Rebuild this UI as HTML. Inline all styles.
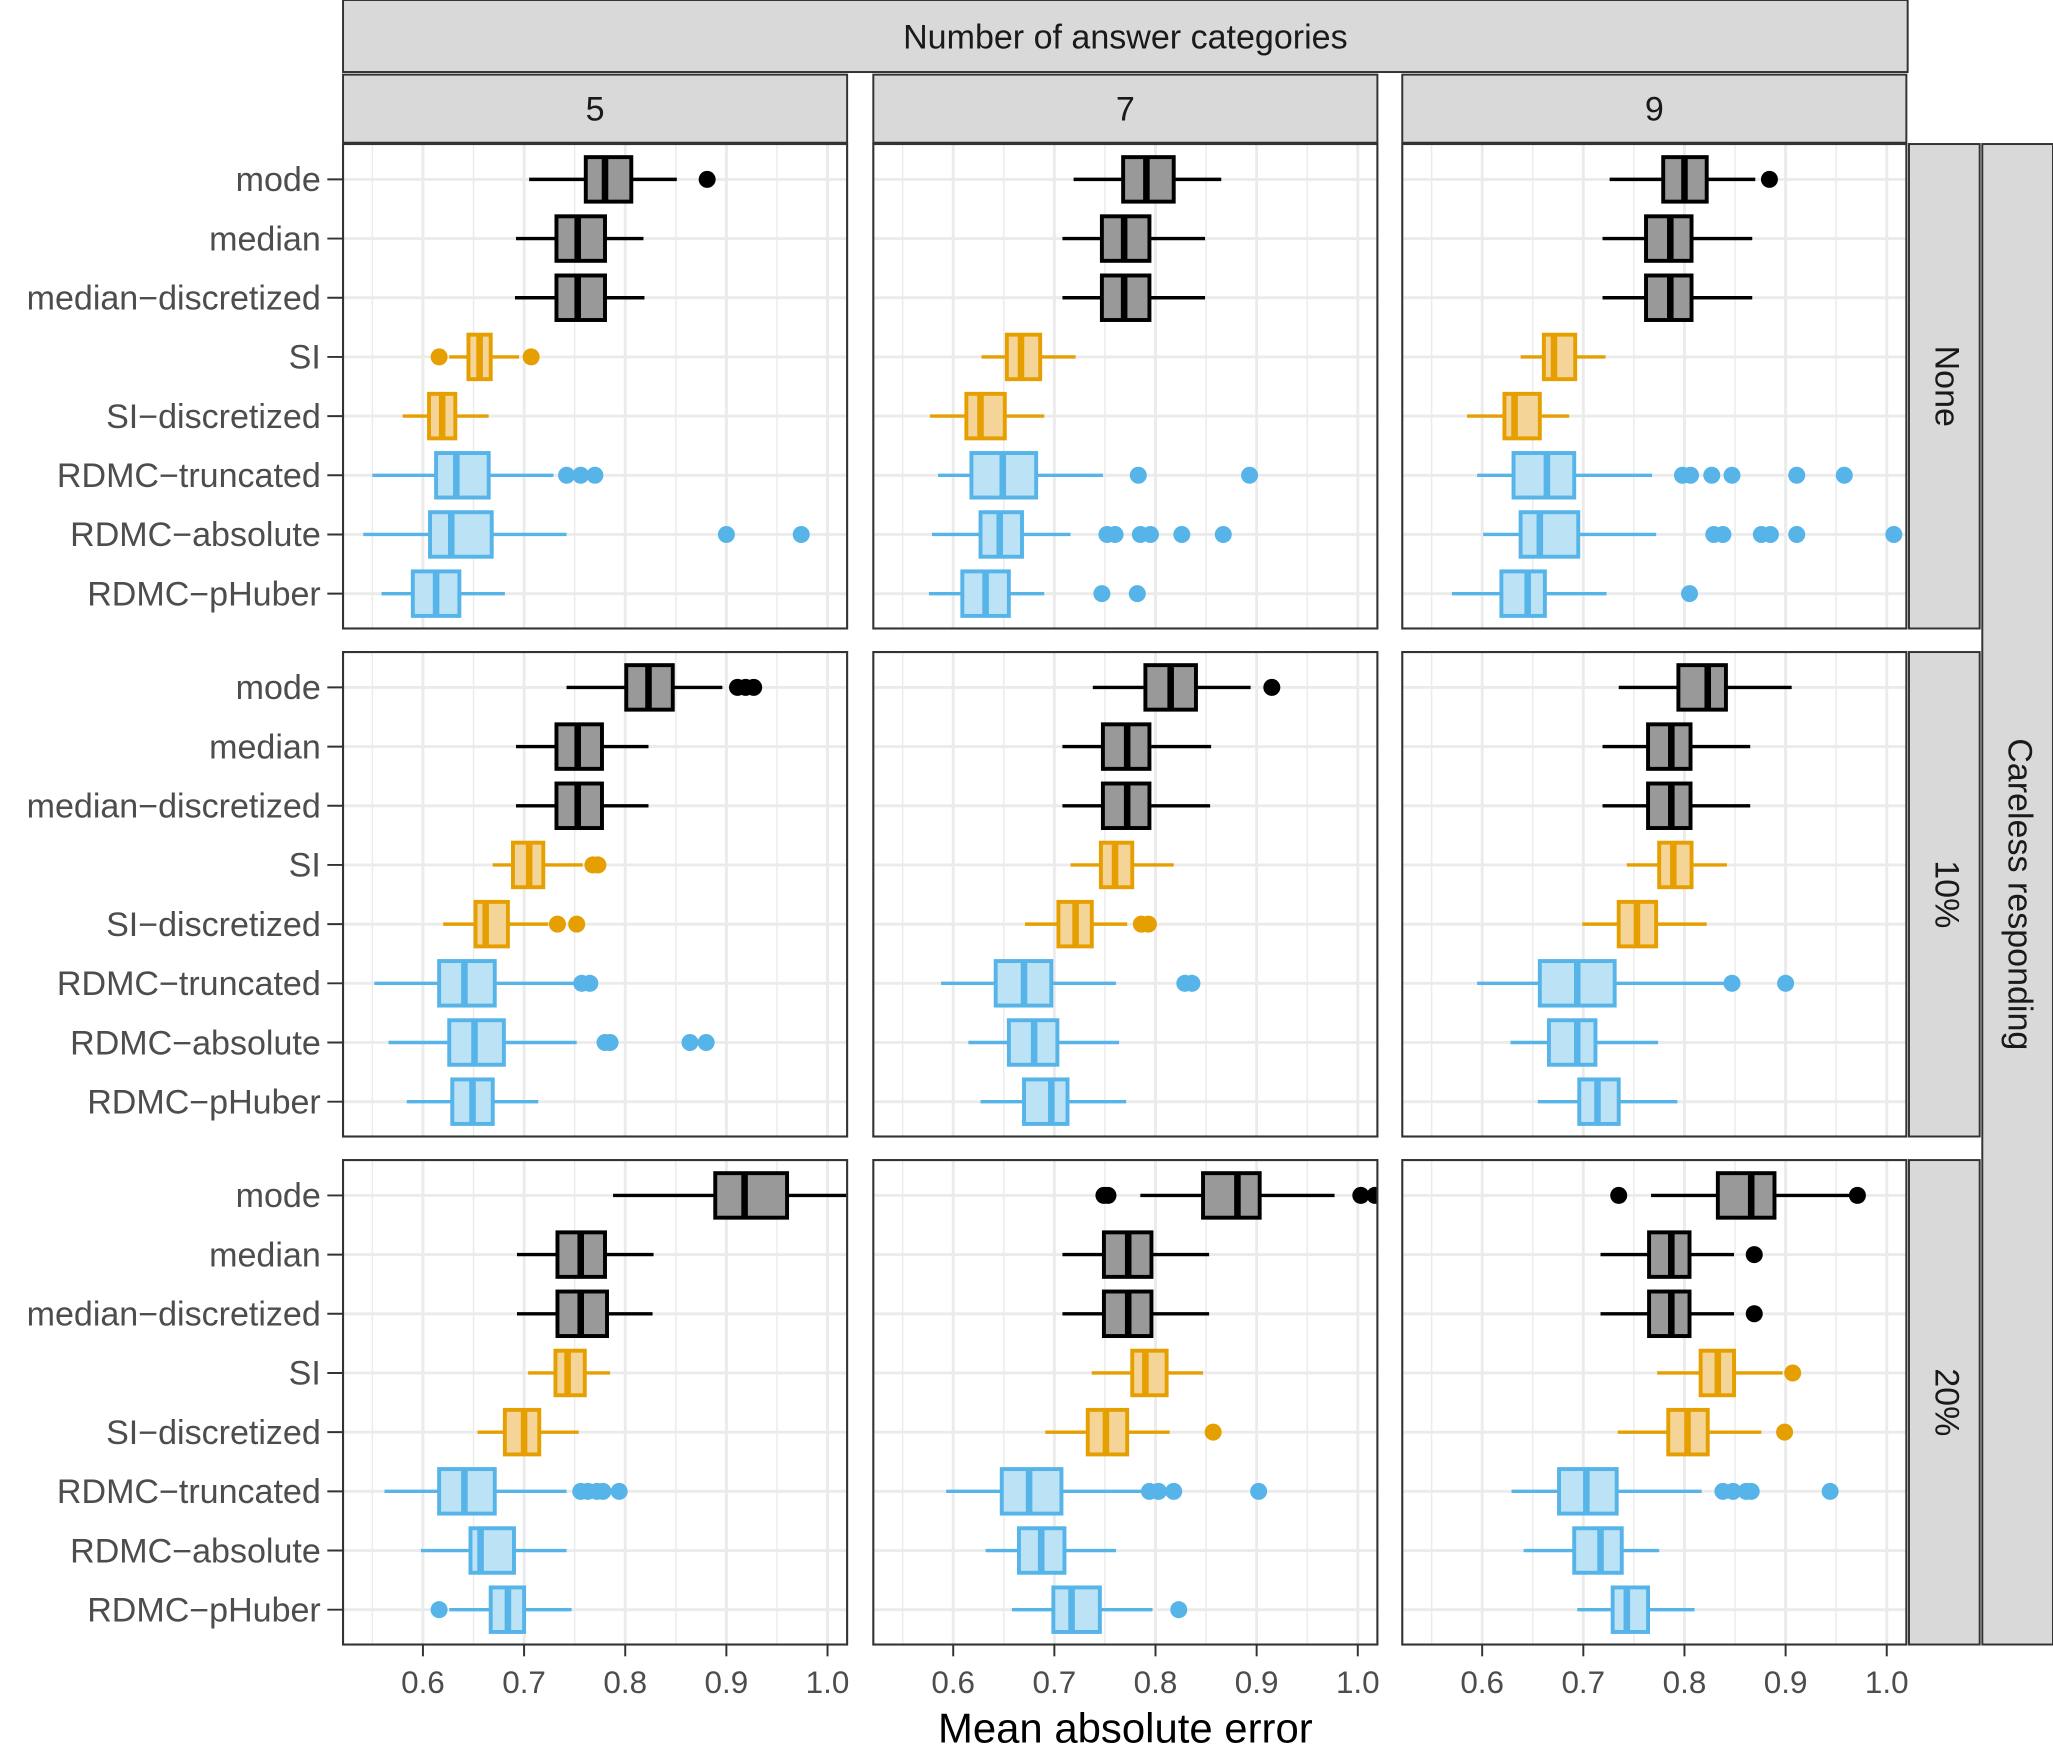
<!DOCTYPE html>
<html><head><meta charset="utf-8"><style>
html,body{margin:0;padding:0;background:#fff;}
svg{display:block;}
text{font-family:"Liberation Sans",Arial,sans-serif;}
</style></head><body>
<svg id="chart" xmlns="http://www.w3.org/2000/svg" width="2053" height="1746" viewBox="0 0 1568 1333.5" preserveAspectRatio="none"></svg>
<script>
const categories = ["mode","median","median\u2212discretized","SI","SI\u2212discretized","RDMC\u2212truncated","RDMC\u2212absolute","RDMC\u2212pHuber"];
const colLabels = ["5","7","9"];
const rowLabels = ["None","10%","20%"];
const xTicks = [0.6,0.7,0.8,0.9,1.0];
const xTickLabels = ["0.6","0.7","0.8","0.9","1.0"];
const xMinor = [0.55,0.65,0.75,0.85,0.95];
const groupOf = [0,0,0,1,1,2,2,2];
// panels ordered: None/5, None/7, None/9, 10%/5, 10%/7, 10%/9, 20%/5, 20%/7, 20%/9
const whiskerLow = [
[.705,.692,.691,.626,.580,.550,.541,.559],
[.719,.708,.708,.628,.577,.585,.579,.576],
[.726,.719,.719,.638,.585,.595,.601,.570],
[.742,.692,.692,.669,.620,.552,.566,.584],
[.738,.708,.708,.716,.671,.588,.615,.627],
[.735,.719,.719,.743,.699,.595,.628,.655],
[.788,.693,.693,.704,.654,.562,.598,.626],
[.785,.708,.708,.737,.691,.593,.632,.658],
[.767,.717,.717,.773,.734,.629,.641,.694]];
const q1 = [
[.761,.732,.732,.645,.606,.613,.607,.590],
[.768,.747,.747,.653,.613,.618,.627,.609],
[.779,.762,.762,.661,.622,.631,.638,.619],
[.801,.732,.732,.689,.652,.616,.626,.629],
[.790,.748,.748,.746,.704,.642,.655,.670],
[.794,.764,.764,.775,.735,.657,.666,.696],
[.889,.733,.733,.731,.681,.616,.647,.667],
[.847,.749,.749,.777,.733,.648,.665,.699],
[.833,.765,.765,.816,.784,.676,.691,.729]];
const median = [
[.780,.753,.753,.656,.619,.633,.628,.613],
[.791,.769,.769,.667,.627,.649,.646,.632],
[.800,.786,.786,.671,.632,.664,.657,.645],
[.823,.753,.753,.705,.662,.641,.651,.649],
[.815,.772,.772,.760,.721,.670,.680,.697],
[.823,.787,.787,.789,.753,.694,.694,.714],
[.918,.756,.756,.743,.700,.641,.657,.684],
[.881,.773,.773,.790,.751,.675,.687,.717],
[.866,.787,.787,.833,.803,.703,.717,.743]];
const q3 = [
[.806,.780,.780,.667,.632,.665,.668,.636],
[.818,.794,.794,.686,.651,.682,.668,.655],
[.822,.807,.807,.692,.657,.691,.695,.662],
[.847,.777,.777,.719,.684,.671,.680,.669],
[.840,.794,.794,.777,.737,.697,.703,.713],
[.841,.806,.806,.807,.772,.731,.712,.735],
[.960,.780,.782,.760,.715,.671,.690,.700],
[.903,.796,.796,.811,.772,.707,.710,.745],
[.889,.805,.805,.849,.823,.733,.738,.764]];
const whiskerHigh = [
[.851,.818,.819,.695,.665,.729,.742,.681],
[.865,.849,.849,.721,.690,.748,.716,.690],
[.870,.867,.867,.722,.686,.768,.772,.723],
[.896,.823,.823,.758,.724,.750,.752,.714],
[.894,.855,.854,.818,.772,.761,.764,.771],
[.906,.865,.865,.842,.822,.843,.774,.793],
[1.04,.828,.827,.785,.754,.742,.742,.747],
[.977,.853,.853,.847,.814,.786,.761,.797],
[.964,.849,.849,.897,.876,.817,.775,.810]];
const outliers = [
[[.881],[],[],[.616,.707],[],[.742,.756,.770],[.900,.974],[]],
[[],[],[],[],[],[.783,.893],[.752,.760,.785,.795,.826,.867],[.747,.782]],
[[.884],[],[],[],[],[.798,.806,.827,.847,.911,.958],[.829,.838,.876,.885,.911,1.007],[.805]],
[[.911,.919,.927],[],[],[.768,.773],[.733,.752],[.757,.765],[.780,.785,.864,.880],[]],
[[.915],[],[],[],[.786,.793],[.829,.836],[],[]],
[[],[],[],[],[],[.847,.900],[],[]],
[[],[],[],[],[],[.756,.763,.772,.778,.794],[],[.616]],
[[.749,.753,1.003,1.017],[],[],[],[.857],[.794,.803,.818,.902],[],[.823]],
[[.735,.971],[.869],[.869],[.907],[.899],[.838,.848,.861,.866,.944],[],[]]];

const NS="http://www.w3.org/2000/svg";
const svg=document.getElementById('chart');
const strokeCol=["#000000","#E69F00","#56B4E9"];
const fillCol=["#999999","#F5D597","#BCE2F5"];
const panelLeft=[262,667,1071], panelTop=[110,498,886], PW=385, PH=370;
const XMIN=0.521, PXPER=772.5;
function xs(c,v){return panelLeft[c]+(v-XMIN)*PXPER;}
function ys(r,i){return panelTop[r]+27+i*45.2;}
function mk(tag,attrs,parent){const e=document.createElementNS(NS,tag);for(const k in attrs)e.setAttribute(k,attrs[k]);(parent||svg).appendChild(e);return e;}

const defs=mk('defs',{});
// strips
let s=mk('rect',{x:262,y:0,width:1195,height:55,fill:'#d9d9d9',stroke:'#333',"stroke-width":1.5});


let t=mk('text',{x:859.5,y:37,"text-anchor":"middle","font-size":26,fill:'#1a1a1a'});
t.textContent="Number of answer categories";


s=mk('rect',{x:1514,y:110,width:54,height:1146,fill:'#d9d9d9',stroke:'#333',"stroke-width":1.5});


t=mk('text',{x:1541,y:683,"text-anchor":"middle","font-size":26,fill:'#1a1a1a',transform:'rotate(90 1541 683)',"dominant-baseline":"middle"});
t.textContent="Careless responding";



for(let c=0;c<3;c++){
  s=mk('rect',{x:panelLeft[c],y:57,width:PW,height:52,fill:'#d9d9d9',stroke:'#333',"stroke-width":1.5});
  
  
  t=mk('text',{x:panelLeft[c]+PW/2,y:92,"text-anchor":"middle","font-size":26,fill:'#1a1a1a'});
  t.textContent=colLabels[c];
  
  
  // x axis
  for(let k=0;k<xTicks.length;k++){
    const x=xs(c,xTicks[k]);
    mk('line',{x1:x,x2:x,y1:1256,y2:1265,stroke:'#333',"stroke-width":1.5});
    t=mk('text',{x:x,y:1293,"text-anchor":"middle","font-size":24,fill:'#4d4d4d'});
    t.textContent=xTickLabels[k];
    
    
  }
}
for(let r=0;r<3;r++){
  s=mk('rect',{x:1458,y:panelTop[r],width:54,height:PH,fill:'#d9d9d9',stroke:'#333',"stroke-width":1.5});
  
  
  const cy=panelTop[r]+PH/2;
  t=mk('text',{x:1485,y:cy,"text-anchor":"middle","font-size":26,fill:'#1a1a1a',transform:'rotate(90 1485 '+cy+')',"dominant-baseline":"middle"});
  t.textContent=rowLabels[r];
  
  
  for(let i=0;i<categories.length;i++){
    const y=ys(r,i);
    mk('line',{x1:250,x2:262,y1:y,y2:y,stroke:'#333',"stroke-width":1.5});
    t=mk('text',{x:245,y:y+9,"text-anchor":"end","font-size":26,fill:'#4d4d4d'});
    t.textContent=categories[i];
    
    
  }
}
t=mk('text',{x:859.5,y:1331,"text-anchor":"middle","font-size":32,fill:'#000'});
t.textContent="Mean absolute error";



for(let r=0;r<3;r++)for(let c=0;c<3;c++){
  const p=r*3+c, L=panelLeft[c], T=panelTop[r];
  const cp=mk('clipPath',{id:'cp'+p},defs);
  mk('rect',{x:L,y:T,width:PW,height:PH},cp);
  const g=mk('g',{"clip-path":'url(#cp'+p+')'});
  
  
  mk('rect',{x:L,y:T,width:PW,height:PH,fill:'#fff'},g);
  xMinor.forEach(v=>{const x=xs(c,v);mk('line',{x1:x,x2:x,y1:T,y2:T+PH,stroke:'#ebebeb',"stroke-width":1.1},g);});
  xTicks.forEach(v=>{const x=xs(c,v);mk('line',{x1:x,x2:x,y1:T,y2:T+PH,stroke:'#ebebeb',"stroke-width":2.2},g);});
  for(let i=0;i<8;i++){const y=ys(r,i);mk('line',{x1:L,x2:L+PW,y1:y,y2:y,stroke:'#ebebeb',"stroke-width":2.2},g);}
  for(let i=0;i<8;i++){
    const y=ys(r,i), gi=groupOf[i], sc=strokeCol[gi], fc=fillCol[gi];
    const bg=mk('g',{},g);
    
    
    mk('line',{x1:xs(c,whiskerLow[p][i]),x2:xs(c,q1[p][i]),y1:y,y2:y,stroke:sc,"stroke-width":2.6},bg);
    mk('line',{x1:xs(c,q3[p][i]),x2:xs(c,whiskerHigh[p][i]),y1:y,y2:y,stroke:sc,"stroke-width":2.6},bg);
    const x1=xs(c,q1[p][i]), x3=xs(c,q3[p][i]);
    mk('rect',{x:x1,y:y-17,width:x3-x1,height:34,fill:fc,stroke:sc,"stroke-width":3},bg);
    const xm=xs(c,median[p][i]);
    mk('line',{x1:xm,x2:xm,y1:y-17,y2:y+17,stroke:sc,"stroke-width":5},bg);
    outliers[p][i].forEach(v=>{
      const d=mk('circle',{cx:xs(c,v),cy:y,r:6.5,fill:sc},bg);
      
      
    });
  }
  mk('rect',{x:L,y:T,width:PW,height:PH,fill:'none',stroke:'#333',"stroke-width":1.6});
}
</script>
</body></html>
